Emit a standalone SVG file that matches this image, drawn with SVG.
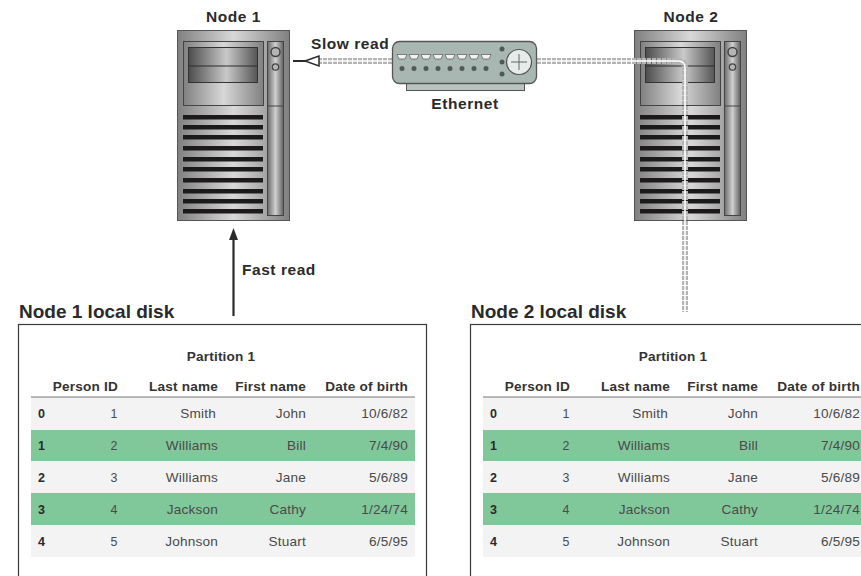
<svg xmlns="http://www.w3.org/2000/svg" width="861" height="576" viewBox="0 0 861 576">
<style>
text{font-family:"Liberation Sans",Arial,sans-serif;fill:#2a2a2a}
.lb{font-size:15.5px;font-weight:700;letter-spacing:.55px}
.ttl{font-size:19px;font-weight:700}
.ph{font-size:13.6px;font-weight:700;text-anchor:middle;letter-spacing:.2px;fill:#333}
.th{font-size:13.6px;font-weight:700;text-anchor:end;letter-spacing:.2px;fill:#333}
.idx{font-size:12.5px;font-weight:700}
.td{font-size:13.6px;text-anchor:end;fill:#4a4a4a;letter-spacing:.2px}
.tm{font-size:12.4px;text-anchor:middle;fill:#4a4a4a}
.slat{fill:#1c1a1a}
.dot{fill:#4f5a58}
.port{fill:#f2f2f2;stroke:#666;stroke-width:.8}
.dsh{fill:none;stroke:#b4b4b4;stroke-width:6;stroke-dasharray:4 1}
.gap{fill:none;stroke:#fff;stroke-width:1.6}
.band{fill:#f3f3f3}
.green{fill:#80c89a}
</style>
<defs>
<linearGradient id="metal" x1="0" x2="1" y1="0" y2="0">
<stop offset="0" stop-color="#808080"/><stop offset=".5" stop-color="#d8d8d8"/><stop offset="1" stop-color="#808080"/>
</linearGradient>
<linearGradient id="drive" x1="0" x2="1" y1="0" y2="0">
<stop offset="0" stop-color="#4c4c4c"/><stop offset=".55" stop-color="#c9c9c9"/><stop offset="1" stop-color="#555"/>
</linearGradient>
<linearGradient id="side" x1="0" x2="1" y1="0" y2="0">
<stop offset="0" stop-color="#6a6a6a"/><stop offset=".5" stop-color="#d0d0d0"/><stop offset="1" stop-color="#5f5f5f"/>
</linearGradient>
<g id="server">
<rect x="177.500" y="30.500" width="112" height="190" fill="url(#metal)" stroke="#555"/>
<rect x="183.500" y="41.500" width="80" height="64" fill="url(#metal)" stroke="#444"/>
<rect x="188.500" y="47.500" width="69" height="35" fill="url(#drive)" stroke="#333"/>
<line x1="188" y1="66" x2="258" y2="66" stroke="#2c2c2c" stroke-width="1.200"/>
<rect class="slat" x="183" y="115" width="80" height="4.500"/>
<rect class="slat" x="183" y="125" width="80" height="4.500"/>
<rect class="slat" x="183" y="135" width="80" height="4.500"/>
<rect class="slat" x="183" y="146" width="80" height="4.500"/>
<rect class="slat" x="183" y="157" width="80" height="4.500"/>
<rect class="slat" x="183" y="167" width="80" height="4.500"/>
<rect class="slat" x="183" y="178" width="80" height="4.500"/>
<rect class="slat" x="183" y="189" width="80" height="4.500"/>
<rect class="slat" x="183" y="199" width="80" height="4.500"/>
<rect class="slat" x="183" y="209" width="80" height="4.500"/>
<rect x="267.500" y="41.500" width="16" height="174" fill="url(#side)" stroke="#444"/>
<line x1="267" y1="106" x2="284" y2="106" stroke="#444"/>
<circle cx="275.500" cy="52" r="4.500" fill="#b5b5b5" stroke="#444" stroke-width="1.500"/>
<circle cx="275.500" cy="67" r="3.200" fill="#b5b5b5" stroke="#444" stroke-width="1.300"/>
</g>
</defs>

<g id="node-1"><use href="#server"/><text class="lb" x="233.500" y="22" text-anchor="middle">Node 1</text></g>
<g id="node-2"><use href="#server" x="457"/><text class="lb" x="691" y="22" text-anchor="middle">Node 2</text></g>

<g id="connectors">
<path class="dsh" d="M318 61H392"/>
<path class="gap" d="M318 61H392"/>
<path class="dsh" d="M537 61H678Q685 61 685 68V312"/>
<path class="gap" d="M537 61H678Q685 61 685 68V312"/>
<path d="M293 61H307" stroke="#2a2a2a" stroke-width="2" fill="none"/>
<path d="M305 61L319 56V66Z" fill="#fff" stroke="#2a2a2a" stroke-width="1.500"/>
<path d="M233.500 316V238" stroke="#2a2a2a" stroke-width="2.200" fill="none"/>
<path d="M233.500 228L238 240H229Z" fill="#2a2a2a"/>
</g>

<g id="ethernet">
<rect x="406.500" y="83" width="118" height="7.500" fill="#b9c4c1" stroke="#555"/>
<rect x="392.500" y="41.500" width="144" height="42" rx="7" fill="#a9b7b3" stroke="#555" stroke-width="1.300"/>
<g class="port">
<path d="M397 54.500h10l-2 4.500h-6z"/><path d="M409 54.500h10l-2 4.500h-6z"/><path d="M421 54.500h10l-2 4.500h-6z"/><path d="M433 54.500h10l-2 4.500h-6z"/><path d="M445 54.500h10l-2 4.500h-6z"/><path d="M457 54.500h10l-2 4.500h-6z"/><path d="M469 54.500h10l-2 4.500h-6z"/><path d="M481 54.500h10l-2 4.500h-6z"/>
</g>
<g class="dot">
<circle cx="402" cy="68.500" r="2.500"/><circle cx="414" cy="68.500" r="2.500"/><circle cx="426" cy="68.500" r="2.500"/><circle cx="438" cy="68.500" r="2.500"/><circle cx="450" cy="68.500" r="2.500"/><circle cx="462" cy="68.500" r="2.500"/><circle cx="474" cy="68.500" r="2.500"/><circle cx="486" cy="68.500" r="2.500"/>
<circle cx="502" cy="49" r="2.500"/><circle cx="502" cy="62" r="2.500"/><circle cx="502" cy="74" r="2.500"/>
</g>
<circle cx="519" cy="62" r="12.500" fill="#e6ecea" stroke="#555" stroke-width="1.200"/>
<path d="M519 54V70M511 62H527" stroke="#666" stroke-width="1" fill="none"/>
<text class="lb" x="465" y="109" text-anchor="middle">Ethernet</text>
</g>

<text class="lb" x="311" y="49">Slow read</text>
<text class="lb" x="242" y="275">Fast read</text>

<g id="disk-1">
<text class="ttl" x="19" y="318">Node 1 local disk</text>
<rect x="18.500" y="324.500" width="408" height="270" fill="#fff" stroke="#3a3a3a" stroke-width="1.200"/>
<rect class="band" x="31" y="397" width="384" height="33"/>
<rect class="green" x="31" y="430" width="384" height="31"/>
<rect class="band" x="31" y="461" width="384" height="32"/>
<rect class="green" x="31" y="493" width="384" height="32"/>
<rect class="band" x="31" y="525" width="384" height="32"/>
<line x1="31" y1="397" x2="415" y2="397" stroke="#777" stroke-width="1.200"/>
<text class="ph" x="221" y="361">Partition 1</text>
<text class="th" x="118" y="391">Person ID</text><text class="th" x="218" y="391">Last name</text><text class="th" x="306" y="391">First name</text><text class="th" x="408" y="391">Date of birth</text>
<text class="idx" x="38" y="418">0</text><text class="tm" x="114" y="418">1</text><text class="td" x="216" y="418">Smith</text><text class="td" x="306" y="418">John</text><text class="td" x="408" y="418">10/6/82</text>
<text class="idx" x="38" y="450">1</text><text class="tm" x="114" y="450">2</text><text class="td" x="218" y="450">Williams</text><text class="td" x="306" y="450">Bill</text><text class="td" x="408" y="450">7/4/90</text>
<text class="idx" x="38" y="482">2</text><text class="tm" x="114" y="482">3</text><text class="td" x="218" y="482">Williams</text><text class="td" x="306" y="482">Jane</text><text class="td" x="408" y="482">5/6/89</text>
<text class="idx" x="38" y="514">3</text><text class="tm" x="114" y="514">4</text><text class="td" x="218" y="514">Jackson</text><text class="td" x="306" y="514">Cathy</text><text class="td" x="408" y="514">1/24/74</text>
<text class="idx" x="38" y="546">4</text><text class="tm" x="114" y="546">5</text><text class="td" x="218" y="546">Johnson</text><text class="td" x="306" y="546">Stuart</text><text class="td" x="408" y="546">6/5/95</text>
</g>

<g id="disk-2" transform="translate(452 0)">
<text class="ttl" x="19" y="318">Node 2 local disk</text>
<rect x="18.500" y="324.500" width="408" height="270" fill="#fff" stroke="#3a3a3a" stroke-width="1.200"/>
<rect class="band" x="31" y="397" width="384" height="33"/>
<rect class="green" x="31" y="430" width="384" height="31"/>
<rect class="band" x="31" y="461" width="384" height="32"/>
<rect class="green" x="31" y="493" width="384" height="32"/>
<rect class="band" x="31" y="525" width="384" height="32"/>
<line x1="31" y1="397" x2="415" y2="397" stroke="#777" stroke-width="1.200"/>
<text class="ph" x="221" y="361">Partition 1</text>
<text class="th" x="118" y="391">Person ID</text><text class="th" x="218" y="391">Last name</text><text class="th" x="306" y="391">First name</text><text class="th" x="408" y="391">Date of birth</text>
<text class="idx" x="38" y="418">0</text><text class="tm" x="114" y="418">1</text><text class="td" x="216" y="418">Smith</text><text class="td" x="306" y="418">John</text><text class="td" x="408" y="418">10/6/82</text>
<text class="idx" x="38" y="450">1</text><text class="tm" x="114" y="450">2</text><text class="td" x="218" y="450">Williams</text><text class="td" x="306" y="450">Bill</text><text class="td" x="408" y="450">7/4/90</text>
<text class="idx" x="38" y="482">2</text><text class="tm" x="114" y="482">3</text><text class="td" x="218" y="482">Williams</text><text class="td" x="306" y="482">Jane</text><text class="td" x="408" y="482">5/6/89</text>
<text class="idx" x="38" y="514">3</text><text class="tm" x="114" y="514">4</text><text class="td" x="218" y="514">Jackson</text><text class="td" x="306" y="514">Cathy</text><text class="td" x="408" y="514">1/24/74</text>
<text class="idx" x="38" y="546">4</text><text class="tm" x="114" y="546">5</text><text class="td" x="218" y="546">Johnson</text><text class="td" x="306" y="546">Stuart</text><text class="td" x="408" y="546">6/5/95</text>
</g>
</svg>
